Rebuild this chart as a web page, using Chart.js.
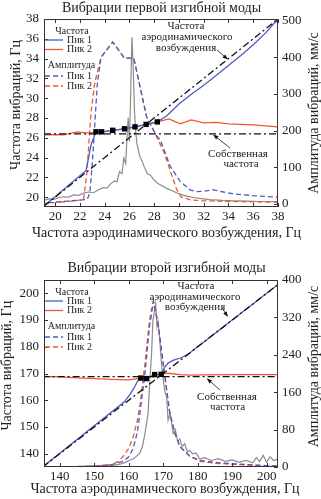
<!DOCTYPE html>
<html>
<head>
<meta charset="utf-8">
<script src="https://cdn.jsdelivr.net/npm/chart.js@4.4.1/dist/chart.umd.min.js"></script>
<style>
  html, body { margin: 0; padding: 0; background: #fff; }
  .box { position: absolute; left: 0; width: 321px; }
  #top { top: 0; height: 249px; }
  #bot { top: 249px; height: 250px; }
</style>
</head>
<body>
<div class="box" id="top"><canvas id="mode1" width="321" height="249"></canvas></div>
<div class="box" id="bot"><canvas id="mode2" width="321" height="250"></canvas></div>
<script>
// ---- first bending mode ----
const m1XTicks = [20, 22, 24, 26, 28, 30, 32, 34, 36, 38];
const m1FreqTicks = [20, 22, 24, 26, 28, 30, 32, 34, 36, 38];
const m1AmpTicks = [0, 100, 200, 300, 400, 500];
const m1ExcX = [19.1, 38];
const m1ExcY = [19.1, 38];
const m1NaturalX = [19.1, 38];
const m1NaturalY = [26.4, 26.4];
const m1Peak1FreqX = [19.1, 22.5, 22.9, 23.3, 23.75, 24.65, 25.6, 26.45, 27.35, 28.25, 29.0, 30.0, 31.0, 32.0, 33.0, 34.0, 35.0, 36.0, 37.0, 38.0];
const m1Peak1FreqY = [19.1, 22.7, 25.3, 26.6, 26.6, 26.75, 26.9, 27.1, 27.35, 27.6, 28.2, 29.4, 30.4, 31.3, 32.3, 33.3, 34.3, 35.4, 36.6, 38.0];
const m1Peak2FreqX = [19.1, 20.7, 21.8, 22.5, 23.15, 23.3, 23.75, 24.65, 25.6, 26.45, 27.35, 28.25, 29.2, 30.1, 31.0, 32.0, 33.0, 34.0, 35.0, 36.0, 37.0, 38.0];
const m1Peak2FreqY = [26.3, 26.3, 26.6, 26.5, 26.55, 26.6, 26.6, 26.75, 26.9, 27.1, 27.35, 27.6, 27.9, 27.4, 27.8, 27.5, 27.55, 27.4, 27.35, 27.3, 27.2, 27.1];
const m1MarkX = [23.3, 23.75, 24.65, 25.6, 26.45, 27.35, 28.25];
const m1MarkY = [26.6, 26.6, 26.75, 26.9, 27.1, 27.35, 27.6];
const m1Peak1AmpX = [19.1, 20, 21, 22, 22.6, 22.8, 23.0, 23.2, 23.4, 23.7, 24.65, 25.6, 26.35, 27.4, 28.2, 28.5, 29.3, 30.1, 30.9, 31.4, 32.0, 32.8, 33.6, 34.4, 36.0, 38.0];
const m1Peak1AmpV = [2, 4, 7, 10, 12, 30, 110, 215, 325, 400, 442, 398, 398, 236, 185, 174, 102, 61, 38, 33, 34, 38, 32, 27, 22, 18];
const m1Peak2AmpX = [19.1, 20, 21, 21.8, 22.3, 22.55, 22.9, 23.2, 23.7, 24.65, 25.6, 26.35, 27.4, 28.2, 28.8, 29.3, 29.8, 30.2, 31.0, 32.0, 34.0, 36.0, 38.0];
const m1Peak2AmpV = [1, 3, 6, 9, 12, 80, 250, 330, 400, 442, 398, 398, 236, 183, 140, 90, 40, 18, 10, 8, 6, 5, 4];
const m1RawX = [19.1, 19.5, 19.9, 20.3, 20.7, 21.1, 21.5, 21.9, 22.3, 22.7, 23.1, 23.5, 23.9, 24.2, 24.5, 24.8, 25.0, 25.2, 25.4, 25.55, 25.7, 25.8, 25.9, 26.0, 26.1, 26.2, 26.3, 26.4, 26.5, 26.6, 26.7, 26.85, 27.0, 27.2, 27.45, 27.7, 28.0, 28.3, 28.6, 29.0, 29.4, 29.8, 30.2, 30.7, 31.2, 31.8, 32.5, 33.5, 34.5, 35.5, 36.5, 37.5, 38];
const m1RawV = [10, 13, 12, 17, 19, 18, 24, 23, 29, 32, 30, 38, 44, 43, 55, 62, 60, 88, 82, 125, 110, 180, 235, 170, 300, 455, 380, 260, 200, 165, 150, 128, 118, 100, 82, 78, 64, 55, 50, 42, 36, 30, 25, 20, 17, 14, 11, 9, 8, 7, 6, 6, 5];

// ---- second bending mode ----
const m2XTicks = [140, 150, 160, 170, 180, 190, 200];
const m2FreqTicks = [140, 150, 160, 170, 180, 190, 200];
const m2AmpTicks = [0, 80, 160, 240, 320, 400];
const m2ExcX = [135, 205];
const m2ExcY = [135, 205];
const m2NaturalX = [135, 205];
const m2NaturalY = [168.8, 168.8];
const m2Peak1FreqX = [135, 158.8, 160.5, 161.5, 162.5, 163.5, 165.1, 167.5, 169.4, 170.5, 171.5, 173.0, 175.0, 177.0, 180.0, 205];
const m2Peak1FreqY = [135, 159.5, 162.5, 164.5, 167.0, 168.3, 168.1, 169.6, 169.7, 172.5, 174.0, 175.0, 175.8, 177.0, 180.0, 205];
const m2Peak2FreqX = [135, 140, 145, 150, 155, 160, 163.5, 165.1, 167.5, 169.4, 170.5, 172, 175, 178, 182, 190, 205];
const m2Peak2FreqY = [168.9, 168.7, 168.4, 168.1, 167.8, 167.6, 168.3, 168.1, 169.6, 169.7, 170.1, 170.0, 169.6, 169.4, 169.5, 169.6, 169.6];
const m2MarkX = [163.5, 165.1, 167.5, 169.4];
const m2MarkY = [168.3, 168.1, 169.6, 169.7];
const m2Peak1AmpX = [135, 140, 145, 150, 155, 158.4, 160, 161.3, 162.5, 163.5, 164.7, 166, 167.2, 168.5, 170, 171, 171.9, 173.4, 174.8, 177.7, 180.6, 185, 190, 195, 200, 204];
const m2Peak1AmpV = [0, 0, 1, 2, 5, 12, 22, 40, 75, 130, 200, 300, 355, 306, 221, 164, 115, 72, 44, 23, 14, 10, 7, 5, 3, 2];
const m2Peak2AmpX = [135, 140, 145, 150, 155, 157, 158.4, 160, 161.3, 162.5, 163.2, 164.7, 166, 167.1, 168.5, 170, 171, 171.9, 173.4, 174.8, 177.7, 180.6, 185, 190, 195, 200, 204];
const m2Peak2AmpV = [0, 0, 1, 2, 5, 12, 23, 40, 65, 100, 129, 221, 313, 355, 306, 221, 164, 115, 72, 44, 23, 12, 8, 6, 4, 2, 1];
const m2RawX = [135, 140, 145, 148, 150, 152, 154, 156, 157.5, 159, 160.5, 161.5, 162.5, 163.2, 164, 164.7, 165.2, 165.6, 166.1, 166.6, 167, 167.4, 167.8, 168.2, 168.5, 169, 169.5, 170, 170.5, 171, 171.4, 172, 172.9, 173.5, 174.2, 174.8, 175.5, 176.2, 177, 177.7, 178.5, 179.5, 180.6, 182, 184, 186, 188, 190, 192, 194, 196, 197, 198, 199, 200, 201, 202, 204];
const m2RawV = [0, 0, 1, 1, 2, 2, 3, 4, 6, 10, 15, 18, 25, 30, 45, 72, 95, 115, 185, 240, 313, 330, 349, 300, 310, 271, 220, 186, 160, 150, 100, 115, 72, 80, 55, 60, 44, 50, 32, 35, 28, 30, 17, 20, 14, 18, 12, 15, 10, 14, 9, 20, 12, 25, 10, 22, 14, 18];

const SERIF = '"Liberation Serif", "Times New Roman", serif';
const INK = '#222222';
const BLUE = '#4a5cc6';
const RED = '#f2562e';
const GRAY = '#8c8c8c';

function pts(xs, ys) {
    return xs.map((x, i) => ({ x: x, y: ys[i] }));
}

function series(xs, ys, color, axis, extra) {
    return Object.assign({
        data: pts(xs, ys),
        yAxisID: axis,
        borderColor: color,
        backgroundColor: color,
        borderWidth: 1.3,
        pointRadius: 0,
        tension: 0,
        fill: false
    }, extra || {});
}

// frame + inward tick marks on all four sides
const framePlugin = {
    id: 'frame',
    afterDatasetsDraw(chart) {
        const { ctx, chartArea: a, scales } = chart;
        const L = 4;
        ctx.save();
        ctx.strokeStyle = '#333';
        ctx.lineWidth = 1;
        ctx.strokeRect(a.left + 0.5, a.top + 0.5, a.right - a.left - 1, a.bottom - a.top - 1);
        ctx.beginPath();
        scales.x.ticks.forEach(t => {
            const p = Math.round(scales.x.getPixelForValue(t.value)) + 0.5;
            ctx.moveTo(p, a.bottom); ctx.lineTo(p, a.bottom - L);
            ctx.moveTo(p, a.top); ctx.lineTo(p, a.top + L);
        });
        scales.y.ticks.forEach(t => {
            const p = Math.round(scales.y.getPixelForValue(t.value)) + 0.5;
            ctx.moveTo(a.left, p); ctx.lineTo(a.left + L, p);
        });
        scales.y1.ticks.forEach(t => {
            const p = Math.round(scales.y1.getPixelForValue(t.value)) + 0.5;
            ctx.moveTo(a.right, p); ctx.lineTo(a.right - L, p);
        });
        ctx.stroke();
        ctx.restore();
    }
};

// titles, inner legend and annotations
const notesPlugin = {
    id: 'notes',
    afterDraw(chart, args, o) {
        const { ctx, chartArea: a } = chart;
        ctx.save();
        ctx.fillStyle = INK;
        ctx.textAlign = 'center';
        ctx.textBaseline = 'middle';

        ctx.font = '14px ' + SERIF;
        ctx.fillText(o.title, o.titlePos[0], o.titlePos[1]);
        ctx.fillText('Частота аэродинамического возбуждения, Гц', o.xTitlePos[0], o.xTitlePos[1]);
        [[o.yTitlePos, 'Частота вибраций, Гц'], [o.y1TitlePos, 'Амплитуда вибраций, мм/с']].forEach(([p, s]) => {
            ctx.save();
            ctx.translate(p[0], p[1]);
            ctx.rotate(-Math.PI / 2);
            ctx.fillText(s, 0, 0);
            ctx.restore();
        });

        // legend
        ctx.font = '10px ' + SERIF;
        ctx.fillText('Частота', a.left + 28, a.top + 12.5);
        ctx.fillText('Амплитуда', a.left + 27.5, a.top + 46);
        const rows = [
            [21, BLUE, [], 'Пик 1'],
            [30.5, RED, [], 'Пик 2'],
            [57, BLUE, [5, 3], 'Пик 1'],
            [67, RED, [5, 3], 'Пик 2']
        ];
        ctx.textAlign = 'left';
        rows.forEach(([dy, c, dash, s]) => {
            ctx.strokeStyle = c;
            ctx.lineWidth = 1.3;
            ctx.setLineDash(dash);
            ctx.beginPath();
            ctx.moveTo(a.left + 1, a.top + dy);
            ctx.lineTo(a.left + 19, a.top + dy);
            ctx.stroke();
            ctx.fillText(s, a.left + 23, a.top + dy);
        });
        ctx.setLineDash([]);

        // annotations
        ctx.font = '11px ' + SERIF;
        ctx.textAlign = 'center';
        o.labels.forEach(([s, x, y]) => ctx.fillText(s, a.left + x, a.top + y));
        o.arrows.forEach(([x0, y0, x1, y1]) => {
            const X0 = a.left + x0, Y0 = a.top + y0, X1 = a.left + x1, Y1 = a.top + y1;
            const ang = Math.atan2(Y1 - Y0, X1 - X0);
            ctx.strokeStyle = '#111';
            ctx.lineWidth = 0.8;
            ctx.beginPath();
            ctx.moveTo(X0, Y0);
            ctx.lineTo(X1 - 4 * Math.cos(ang), Y1 - 4 * Math.sin(ang));
            ctx.stroke();
            ctx.fillStyle = '#111';
            ctx.beginPath();
            ctx.moveTo(X1, Y1);
            ctx.lineTo(X1 - 5.5 * Math.cos(ang) + 2 * Math.sin(ang), Y1 - 5.5 * Math.sin(ang) - 2 * Math.cos(ang));
            ctx.lineTo(X1 - 5.5 * Math.cos(ang) - 2 * Math.sin(ang), Y1 - 5.5 * Math.sin(ang) + 2 * Math.cos(ang));
            ctx.closePath();
            ctx.fill();
        });
        ctx.restore();
    }
};

function tickFont() {
    return { family: SERIF, size: 13 };
}

function makeChart(id, d) {
    const dashDot = [7, 3, 2, 3];
    return new Chart(document.getElementById(id), {
        type: 'line',
        data: {
            datasets: [
                series(d.markX, d.markY, '#000', 'y', { showLine: false, pointRadius: 3.8, pointStyle: 'rect', pointBorderWidth: 0 }),
                series(d.excX, d.excY, '#111', 'y', { borderDash: dashDot }),
                series(d.natX, d.natY, '#111', 'y', { borderDash: dashDot }),
                series(d.p1fX, d.p1fY, BLUE, 'y'),
                series(d.p2fX, d.p2fY, RED, 'y'),
                series(d.p1aX, d.p1aV, BLUE, 'y1', { borderDash: [5, 3], borderDashOffset: 4 }),
                series(d.p2aX, d.p2aV, RED, 'y1', { borderDash: [5, 3] }),
                series(d.rawX, d.rawV, GRAY, 'y1', { borderWidth: 1.2 })
            ]
        },
        options: {
            responsive: false,
            animation: false,
            layout: { padding: { top: d.top } },
            plugins: {
                legend: { display: false },
                tooltip: { enabled: false },
                notes: d.notes
            },
            scales: {
                x: {
                    type: 'linear',
                    min: d.xRange[0],
                    max: d.xRange[1],
                    afterBuildTicks: s => { s.ticks = d.xTicks.map(v => ({ value: v })); },
                    afterFit: s => { s.height = d.xAxisH; },
                    grid: { display: false, drawTicks: false },
                    border: { display: false },
                    ticks: { color: INK, font: tickFont(), padding: 2, maxRotation: 0 }
                },
                y: {
                    position: 'left',
                    min: d.yRange[0],
                    max: d.yRange[1],
                    afterBuildTicks: s => { s.ticks = d.yTicks.map(v => ({ value: v })); },
                    afterFit: s => { s.width = 44; },
                    grid: { display: false, drawTicks: false },
                    border: { display: false },
                    ticks: { color: INK, font: tickFont(), padding: 5 }
                },
                y1: {
                    position: 'right',
                    min: d.y1Range[0],
                    max: d.y1Range[1],
                    afterBuildTicks: s => { s.ticks = d.y1Ticks.map(v => ({ value: v })); },
                    afterFit: s => { s.width = 43; },
                    grid: { display: false, drawTicks: false },
                    border: { display: false },
                    ticks: { color: INK, font: tickFont(), padding: 4 }
                }
            }
        },
        plugins: [framePlugin, notesPlugin]
    });
}

makeChart('mode1', {
    top: 19, xAxisH: 42,
    xRange: [19.1, 38], yRange: [19, 38], y1Range: [-9, 505],
    xTicks: m1XTicks, yTicks: m1FreqTicks, y1Ticks: m1AmpTicks,
    excX: m1ExcX, excY: m1ExcY, natX: m1NaturalX, natY: m1NaturalY,
    p1fX: m1Peak1FreqX, p1fY: m1Peak1FreqY, p2fX: m1Peak2FreqX, p2fY: m1Peak2FreqY,
    markX: m1MarkX, markY: m1MarkY,
    p1aX: m1Peak1AmpX, p1aV: m1Peak1AmpV, p2aX: m1Peak2AmpX, p2aV: m1Peak2AmpV,
    rawX: m1RawX, rawV: m1RawV,
    notes: {
        title: 'Вибрации первой изгибной моды',
        titlePos: [161.5, 8.5], xTitlePos: [166.5, 233], yTitlePos: [16.5, 105], y1TitlePos: [314, 113],
        labels: [['Частота', 142, 7], ['аэродинамического', 143, 18], ['возбуждения', 142, 29],
                 ['Собственная', 194, 135.3], ['частота', 197, 145.3]],
        arrows: [[173, 31, 184, 40.5], [186, 129, 169, 115.5]]
    }
});

makeChart('mode2', {
    top: 31, xAxisH: 32,
    xRange: [135.4, 203.3], yRange: [135, 205], y1Range: [0, 400],
    xTicks: m2XTicks, yTicks: m2FreqTicks, y1Ticks: m2AmpTicks,
    excX: m2ExcX, excY: m2ExcY, natX: m2NaturalX, natY: m2NaturalY,
    p1fX: m2Peak1FreqX, p1fY: m2Peak1FreqY, p2fX: m2Peak2FreqX, p2fY: m2Peak2FreqY,
    markX: m2MarkX, markY: m2MarkY,
    p1aX: m2Peak1AmpX, p1aV: m2Peak1AmpV, p2aX: m2Peak2AmpX, p2aV: m2Peak2AmpV,
    rawX: m2RawX, rawV: m2RawV,
    notes: {
        title: 'Вибрации второй изгибной моды',
        titlePos: [166.5, 19.3], xTitlePos: [165, 240.3], yTitlePos: [7.5, 116.7], y1TitlePos: [314, 117.5],
        labels: [['Частота', 152, 6], ['аэродинамического', 151, 16.7], ['возбуждения', 151, 26.7],
                 ['Собственная', 183, 117.3], ['частота', 183.5, 127.3]],
        arrows: [[178, 28, 184, 37], [176, 110, 162.7, 98.3]]
    }
});
</script>
</body>
</html>
